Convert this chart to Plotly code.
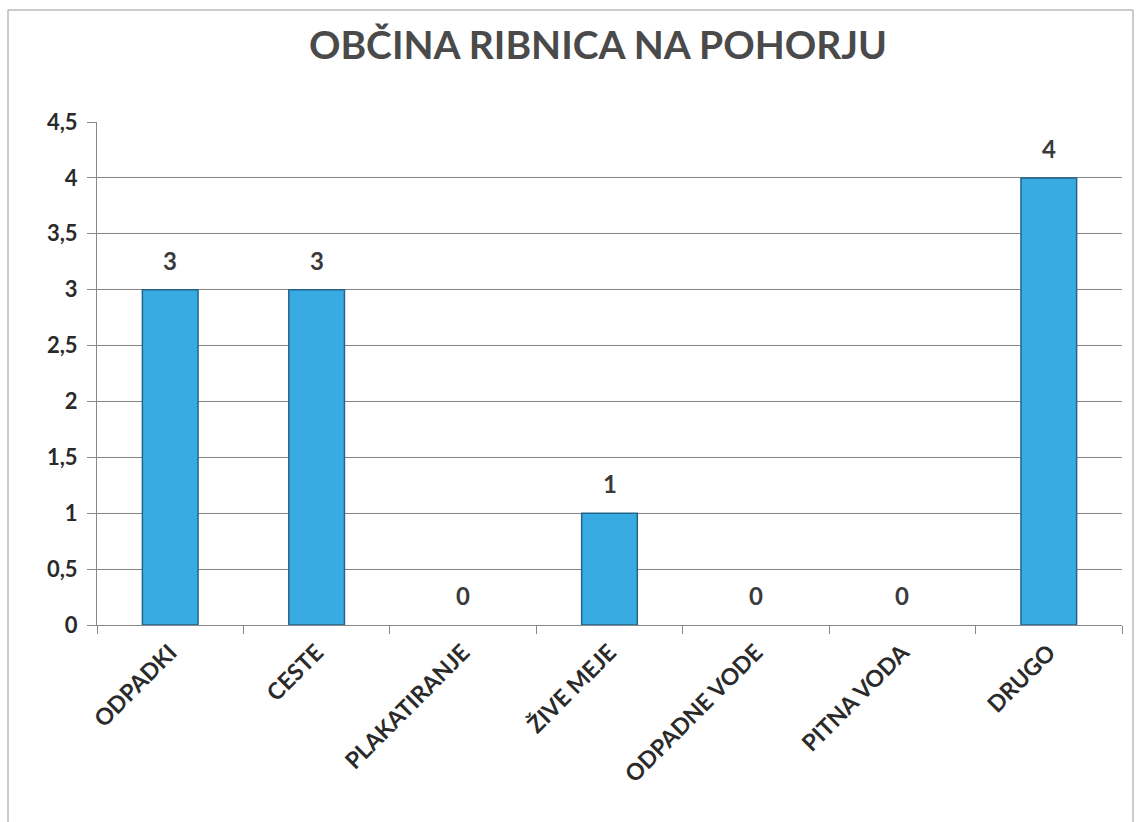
import plotly.graph_objects as go

categories = ["ODPADKI", "CESTE", "PLAKATIRANJE", "ŽIVE MEJE", "ODPADNE VODE", "PITNA VODA", "DRUGO"]
values = [3, 3, 0, 1, 0, 0, 4]
y_tick_vals = [0, 0.5, 1, 1.5, 2, 2.5, 3, 3.5, 4, 4.5]
y_tick_text = ["0", "0,5", "1", "1,5", "2", "2,5", "3", "3,5", "4", "4,5"]
title_text = "OBČINA RIBNICA NA POHORJU"

W, H = 1141, 822
ml, mr, mt, mb = 97, 19, 122, 197
pw = W - ml - mr
ph = H - mt - mb

def px_x(p):
    return (p - ml) / pw

def px_y(p):
    return (H - mb - p) / ph

fig = go.Figure()
fig.add_trace(go.Bar(
    x=categories, y=values,
    marker=dict(color="#38abe3",
                line=dict(color="#25648a", width=[1.5 if v > 0 else 0 for v in values])),
    hoverinfo="x+y",
))

annotations = []
for c, v in zip(categories, values):
    annotations.append(dict(
        x=c, y=v, xref="x", yref="y", text=str(v), showarrow=False,
        yanchor="bottom", yshift=13,
        font=dict(family="Lato", size=24, color="#3a3a3a", weight="bold"),
    ))

fig.update_layout(
    width=W, height=H,
    margin=dict(l=ml, r=mr, t=mt, b=mb, autoexpand=False),
    paper_bgcolor="white", plot_bgcolor="white",
    bargap=0.62,
    showlegend=False,
    title=dict(text=title_text, x=px_x(598), xref="paper", xanchor="center",
               y=1 - 45 / H, yanchor="middle",
               font=dict(family="Lato", size=39, color="#4a4a4a", weight="bold")),
    xaxis=dict(
        tickangle=-45, tickson="boundaries", ticks="outside", ticklen=8,
        tickcolor="#888", showline=True, linecolor="#888", linewidth=1,
        tickfont=dict(family="Lato", size=23, color="#2a2a2a", weight="bold"),
        ticklabelstandoff=4,
        showgrid=False,
    ),
    yaxis=dict(
        range=[0, 4.5], tickvals=y_tick_vals, ticktext=y_tick_text,
        ticks="outside", ticklen=9, tickcolor="#888",
        showline=True, linecolor="#888", linewidth=1,
        gridcolor="#858585", gridwidth=1, zeroline=False,
        tickfont=dict(family="Lato", size=22, color="#2a2a2a", weight="bold"),
        ticklabelstandoff=5,
    ),
    annotations=annotations,
    shapes=[dict(type="rect", xref="paper", yref="paper",
                 x0=px_x(8), x1=px_x(1133), y0=px_y(900), y1=px_y(10),
                 line=dict(color="#9a9a9a", width=1), layer="below")],
)

fig.write_html("out.html", config={"displayModeBar": False},
               post_script="document.body.style.margin='0';document.body.style.overflow='hidden';")
